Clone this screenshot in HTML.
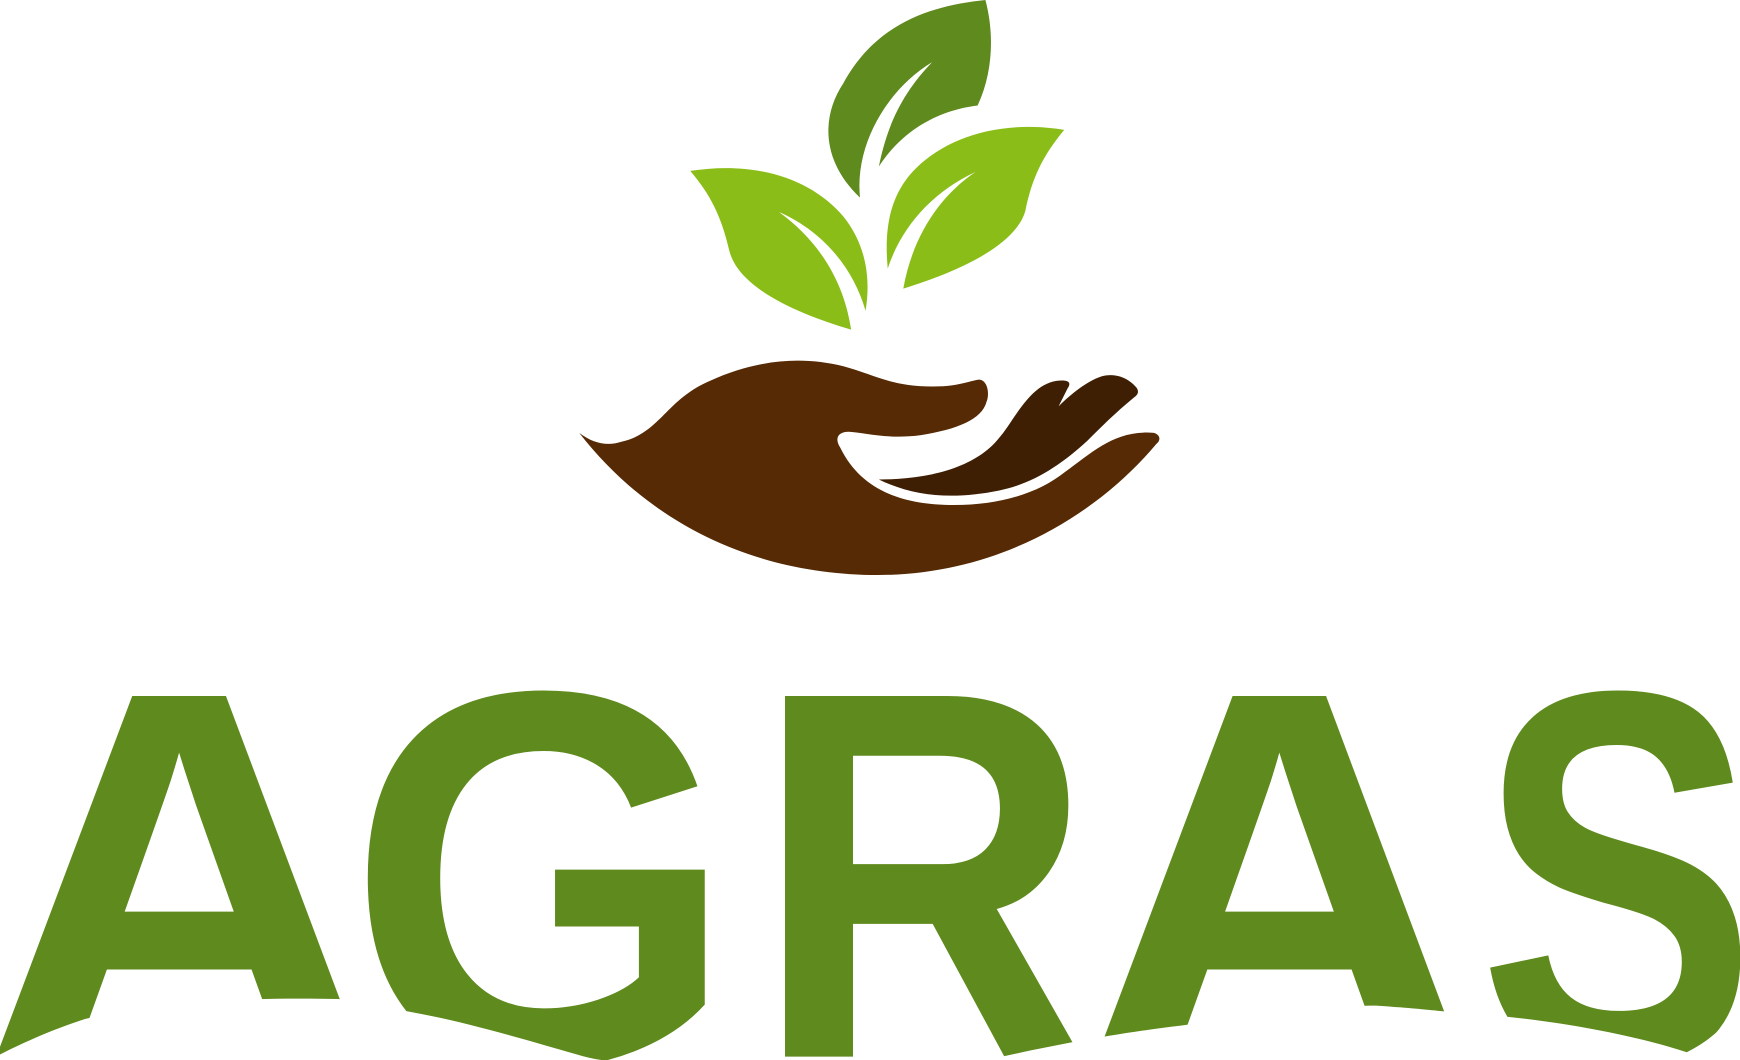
<!DOCTYPE html>
<html><head><meta charset="utf-8"><style>
html,body{margin:0;padding:0;background:#fff;width:1740px;height:1060px;overflow:hidden;}
svg{display:block;}
</style></head><body>
<svg width="1740" height="1060" viewBox="0 0 1568 955" preserveAspectRatio="none" xmlns="http://www.w3.org/2000/svg">
<g>
<path fill="#5f8a1d" d="M775,178 C740,145 740,105 760,75 C790,20 840,5 888,0 C896,30 895,65 881,95 C840,100 810,122 792,150 C800,110 815,82 840,56 C800,80 770,130 775,178 Z"/>
<path fill="#8bbd18" d="M622,154 C680,145 730,160 760,195 C780,220 785,250 780,280 C770,245 745,210 702,191 C735,215 760,250 767,297 C720,283 665,260 657,225 C650,195 640,175 622,154 Z"/>
<path fill="#8bbd18" d="M959,117 C905,108 855,122 825,152 C800,177 797,210 800,242 C812,205 840,173 879,155 C845,178 822,215 814,260 C860,246 915,222 924,190 C930,160 940,140 959,117 Z"/>
<path fill="#552a04" d="M522,390 C535,400 548,402 560,398 C595,390 600,360 640,343 C680,325 720,320 760,330 C790,338 805,350 850,348 C865,347 875,343 882,342 C890,342 892,355 889,362 C885,378 862,387 830,392 C800,396 780,390 765,389 C755,389 752,395 757,403 C775,440 810,455 860,455 C900,455 935,445 960,425 C985,407 1005,387 1040,390 C1046,392 1046,397 1042,400 C990,462 900,520 785,518 C670,516 580,465 522,390 Z"/>
<path fill="#3f1f04" d="M792,432 C840,432 880,420 900,395 C915,378 930,340 960,343 C965,344 964,347 962,350 L954,366 C965,355 980,343 993,339 C1005,336 1016,340 1024,349 C1027,353 1025,356 1022,358 C1005,372 993,384 980,397 C955,420 930,436 900,442 C860,450 825,448 792,432 Z"/>
</g>
<g fill="#5f8a1d" font-family="'Liberation Sans', sans-serif" font-weight="bold" font-size="481">
<text x="-18" y="958" textLength="359" lengthAdjust="spacingAndGlyphs">A</text>
<text x="313" y="958" textLength="350" lengthAdjust="spacingAndGlyphs">G</text>
<text x="679" y="958" textLength="307" lengthAdjust="spacingAndGlyphs">R</text>
<text x="974" y="958" textLength="358" lengthAdjust="spacingAndGlyphs">A</text>
<text x="1332" y="958" textLength="251" lengthAdjust="spacingAndGlyphs">S</text>
</g>
<path fill="#fff" d="M0,950 C30,935 55,925 77,918 C130,905 200,898 305,900 L340,907 C400,915 450,930 520,950 C560,962 600,958 636,945 L640,955 L700,955 L706,952 L772,952 L903,952 C925,947 945,943 966,939 C1000,933 1030,928 1064,924 C1130,915 1200,906 1240,906 C1270,908 1290,910 1299,911 C1310,912 1330,913 1348,915 C1420,922 1480,935 1520,948 C1540,938 1555,925 1568,905 L1568,955 L0,955 Z"/>
</svg>
</body></html>
